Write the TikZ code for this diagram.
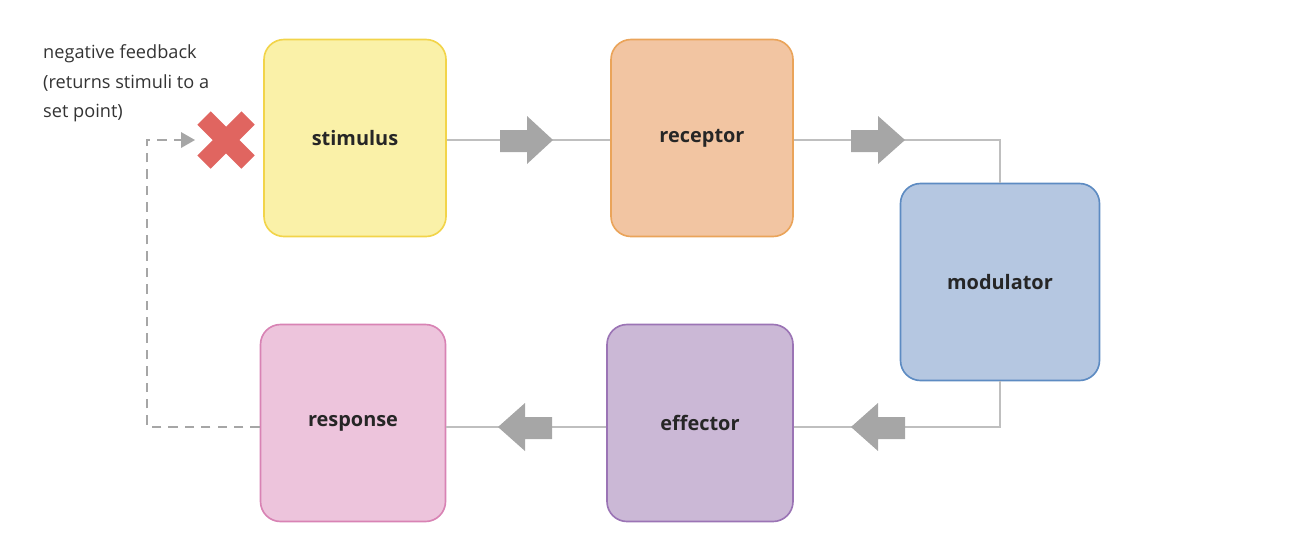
\documentclass[tikz,border=0pt]{standalone}
\usepackage{fontspec}
\setmainfont{Open Sans}
\begin{document}
\begin{tikzpicture}[x=0.03cm,y=-0.03cm,
 box/.style={draw,line width=1.4pt,rounded corners=0.6cm,minimum width=182*0.03cm,minimum height=197*0.03cm,font=\fontsize{17}{20}\selectfont\bfseries,text=black!85},
 conn/.style={draw=black!25,line width=1.5pt},
 fat/.style={fill=black!35}]
\useasboundingbox (0,0) rectangle (1310,558);
\definecolor{yf}{HTML}{FAF1A8}\definecolor{yd}{HTML}{F2D44A}
\definecolor{of}{HTML}{F2C5A2}\definecolor{od}{HTML}{EAA45A}
\definecolor{bf}{HTML}{B5C7E1}\definecolor{bd}{HTML}{5D8BC2}
\definecolor{pf}{HTML}{CBB8D6}\definecolor{pd}{HTML}{9B74B5}
\definecolor{rf}{HTML}{EDC4DC}\definecolor{rd}{HTML}{D883B4}
\definecolor{xr}{HTML}{E06560}
\node[box,fill=yf,draw=yd] (sti) at (355,138) {stimulus};
\node[box,fill=of,draw=od] (rec) at (702,138) {receptor};
\node[box,fill=bf,draw=bd,minimum width=199*0.03cm] (mod) at (1000,282) {modulator};
\node[box,fill=pf,draw=pd,minimum width=186*0.03cm] (eff) at (700,423) {effector};
\node[box,fill=rf,draw=rd,minimum width=185*0.03cm] (res) at (353,423) {response};
\coordinate (c1) at (1000,140);
\coordinate (c2) at (1000,427);
\coordinate (f1) at (147,427);
\coordinate (f2) at (147,140);
\coordinate (f3) at (186,140);
\draw[conn] (sti.east |- 0,140) -- (rec.west |- 0,140);
\draw[conn] (rec.east |- 0,140) -- (c1) -- (mod.north);
\draw[conn] (mod.south) -- (c2) -- (eff.east |- 0,427);
\draw[conn] (eff.west |- 0,427) -- (res.east |- 0,427);
\draw[black!35,line width=1.5pt,dash pattern=on 8pt off 6pt] (res.west |- 0,427) -- (f1) -- (f2) -- (f3);
\fill[black!35] (f3) ++(-5,-8) -- ++(14,8) -- ++(-14,8) -- cycle;
% fat arrows
\fill[fat] (500,130) -- (527,130) -- (527,116) -- (553,140) -- (527,164) -- (527,152) -- (500,152) -- cycle;
\fill[fat] (851,130) -- (878,130) -- (878,116) -- (905,140) -- (878,164) -- (878,152) -- (851,152) -- cycle;
\fill[fat] (905,417) -- (878,417) -- (878,403) -- (851,427) -- (878,451) -- (878,439) -- (905,439) -- cycle;
\fill[fat] (552,417) -- (525,417) -- (525,403) -- (498,427) -- (525,451) -- (525,439) -- (552,439) -- cycle;
% red X
\draw[xr,line width=16pt] (204,118) -- (248,162) (204,162) -- (248,118);
\node[anchor=north west,align=left,font=\fontsize{15.5}{25.5}\selectfont,text=black!80,inner sep=0pt] (nf) at (43,44) {negative feedback\\(returns stimuli to a\\set point)};
\end{tikzpicture}
\end{document}
